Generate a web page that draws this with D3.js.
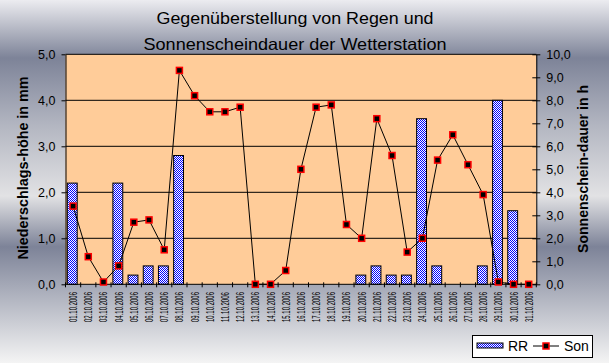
<!DOCTYPE html>
<html>
<head>
<meta charset="utf-8">
<script src="https://cdn.jsdelivr.net/npm/d3@7"></script>
<style>
  body { margin: 0; padding: 0; }
  text { font-family: "Liberation Sans", Arial, sans-serif; fill: #000; }
</style>
</head>
<body>
<div id="chart"></div>
<script>
var days = ["01.10.2006", "02.10.2006", "03.10.2006", "04.10.2006", "05.10.2006", "06.10.2006", "07.10.2006",
  "08.10.2006", "09.10.2006", "10.10.2006", "11.10.2006", "12.10.2006", "13.10.2006", "14.10.2006",
  "15.10.2006", "16.10.2006", "17.10.2006", "18.10.2006", "19.10.2006", "20.10.2006", "21.10.2006",
  "22.10.2006", "23.10.2006", "24.10.2006", "25.10.2006", "26.10.2006", "27.10.2006", "28.10.2006",
  "29.10.2006", "30.10.2006", "31.10.2006"];

// Niederschlag in mm (linke Achse)
var rr = [2.2, 0, 0, 2.2, 0.2, 0.4, 0.4, 2.8, 0, 0, 0, 0, 0, 0, 0, 0, 0, 0, 0, 0.2, 0.4,
  0.2, 0.2, 3.6, 0.4, 0, 0, 0.4, 4.0, 1.6, 0];

// Sonnenscheindauer in h (rechte Achse)
var son = [3.4, 1.2, 0.1, 0.8, 2.7, 2.8, 1.5, 9.3, 8.2, 7.5, 7.5, 7.7, 0, 0, 0.6, 5.0, 7.7, 7.8, 2.6, 2.0, 7.2,
  5.6, 1.4, 2.0, 5.4, 6.5, 5.2, 3.9, 0.1, 0, 0];

var leftTicks = [0, 1, 2, 3, 4, 5];
var rightTicks = [0, 1, 2, 3, 4, 5, 6, 7, 8, 9, 10];
var titleLines = ["Gegenüberstellung von Regen und", "Sonnenscheindauer der Wetterstation"];
var seriesNames = ["RR", "Son"];

var width = 609, height = 363;
var plotL = 65.5, plotR = 536.3, plotT = 54.3, plotB = 284.3;

var fmt = function (d) { return d3.format(".1f")(d).replace(".", ","); };

var svg = d3.select("#chart").append("svg")
  .attr("width", width).attr("height", height);

var defs = svg.append("defs");
var grad = defs.append("linearGradient").attr("id", "bg")
  .attr("x1", 0).attr("y1", 0).attr("x2", 0).attr("y2", 1);
grad.append("stop").attr("offset", "0").attr("stop-color", "#ececf0");
grad.append("stop").attr("offset", "0.16").attr("stop-color", "#7d8398");
grad.append("stop").attr("offset", "0.35").attr("stop-color", "#b4b7c2");
grad.append("stop").attr("offset", "0.54").attr("stop-color", "#e2e2e4");
grad.append("stop").attr("offset", "0.68").attr("stop-color", "#7d8398");
grad.append("stop").attr("offset", "1").attr("stop-color", "#f4f4f4");

// blau/weiss kariert wie in Excel
var pat = defs.append("pattern").attr("id", "dots")
  .attr("width", 2).attr("height", 2).attr("patternUnits", "userSpaceOnUse");
pat.append("rect").attr("width", 2).attr("height", 2).attr("fill", "#fff");
pat.append("rect").attr("x", 0).attr("y", 0).attr("width", 1).attr("height", 1).attr("fill", "#0000ff");
pat.append("rect").attr("x", 1).attr("y", 1).attr("width", 1).attr("height", 1).attr("fill", "#0000ff");

svg.append("rect").attr("width", width).attr("height", height).attr("fill", "url(#bg)");

var x = d3.scaleBand().domain(days).range([plotL, plotR]).padding(0);
var yL = d3.scaleLinear().domain([0, 5]).range([plotB, plotT]);
var yR = d3.scaleLinear().domain([0, 10]).range([plotB, plotT]);

// plot area
svg.append("rect")
  .attr("x", plotL).attr("y", plotT)
  .attr("width", plotR - plotL).attr("height", plotB - plotT)
  .attr("fill", "#ffcc99");

// gridlines
svg.append("g").selectAll("line")
  .data(leftTicks.slice(1))
  .enter().append("line")
  .attr("x1", plotL).attr("x2", plotR)
  .attr("y1", function (d) { return yL(d); })
  .attr("y2", function (d) { return yL(d); })
  .attr("stroke", "#000").attr("stroke-width", 1);

// bars
var bw = x.bandwidth();
svg.append("g").selectAll("rect")
  .data(days.map(function (d, i) { return { day: d, v: rr[i] }; }).filter(function (d) { return d.v > 0; }))
  .enter().append("rect")
  .attr("x", function (d) { return x(d.day) + bw * 0.12; })
  .attr("width", bw * 0.65)
  .attr("y", function (d) { return yL(d.v); })
  .attr("height", function (d) { return yL(0) - yL(d.v); })
  .attr("fill", "url(#dots)")
  .attr("stroke", "#000").attr("stroke-width", 1);

// left axis
var axL = svg.append("g").attr("transform", "translate(" + plotL + ",0)")
  .call(d3.axisLeft(yL).tickValues(leftTicks).tickSize(4).tickSizeOuter(0).tickFormat(fmt));
axL.selectAll("text").attr("x", -10).style("font-size", "12.5px").style("font-family", "Liberation Sans, Arial");
axL.selectAll("line, path").attr("stroke", "#000");

// right axis, ticks crossing
var axR = svg.append("g").attr("transform", "translate(" + plotR + ",0)")
  .call(d3.axisRight(yR).tickValues(rightTicks).tickSize(4).tickSizeOuter(0).tickFormat(fmt));
axR.selectAll(".tick line").attr("x1", -4).attr("x2", 4);
axR.selectAll("text").attr("x", 10).style("font-size", "12.5px").style("font-family", "Liberation Sans, Arial");
axR.selectAll("line, path").attr("stroke", "#000");

// x axis line + ticks at category borders
svg.append("line").attr("x1", plotL).attr("x2", plotR).attr("y1", plotB).attr("y2", plotB)
  .attr("stroke", "#000");
svg.append("g").selectAll("line")
  .data(days.concat(["end"]))
  .enter().append("line")
  .attr("x1", function (d) { return d === "end" ? plotR : x(d); })
  .attr("x2", function (d) { return d === "end" ? plotR : x(d); })
  .attr("y1", plotB - 2).attr("y2", plotB + 3)
  .attr("stroke", "#000");

svg.append("g").selectAll("text")
  .data(days)
  .enter().append("text")
  .attr("transform", function (d) { return "translate(" + (x(d) + bw / 2 + 4) + "," + 292 + ") rotate(-90)"; })
  .attr("text-anchor", "end")
  .attr("textLength", 30)
  .attr("lengthAdjust", "spacingAndGlyphs")
  .style("font-size", "11.5px")
  .text(function (d) { return d; });

// Sonnenschein line
var line = d3.line()
  .x(function (d, i) { return x(days[i]) + bw / 2; })
  .y(function (d) { return yR(d); });

svg.append("path").datum(son)
  .attr("d", line)
  .attr("fill", "none").attr("stroke", "#000").attr("stroke-width", 1);

svg.append("g").selectAll("rect")
  .data(son)
  .enter().append("rect")
  .attr("x", function (d, i) { return x(days[i]) + bw / 2 - 3; })
  .attr("y", function (d) { return yR(d) - 3; })
  .attr("width", 6).attr("height", 6)
  .attr("fill", "#000").attr("stroke", "#ff0000").attr("stroke-width", 1.5);

// title
svg.append("text").attr("x", 295).attr("y", 24)
  .attr("text-anchor", "middle").attr("textLength", 277).attr("lengthAdjust", "spacingAndGlyphs")
  .style("font-size", "16.5px").text(titleLines[0]);
svg.append("text").attr("x", 295).attr("y", 49.5)
  .attr("text-anchor", "middle").attr("textLength", 303).attr("lengthAdjust", "spacingAndGlyphs")
  .style("font-size", "16.5px").text(titleLines[1]);

// axis titles
svg.append("text")
  .attr("transform", "translate(28,168) rotate(-90)")
  .attr("text-anchor", "middle").attr("textLength", 183).attr("lengthAdjust", "spacingAndGlyphs")
  .style("font-size", "14px").style("font-weight", "bold")
  .text("Niederschlags-höhe in mm");
svg.append("text")
  .attr("transform", "translate(588,169) rotate(-90)")
  .attr("text-anchor", "middle").attr("textLength", 168).attr("lengthAdjust", "spacingAndGlyphs")
  .style("font-size", "14px").style("font-weight", "bold")
  .text("Sonnenschein-dauer in h");

// legend
var lg = svg.append("g");
lg.append("rect").attr("x", 472.5).attr("y", 335.5).attr("width", 120).attr("height", 22)
  .attr("fill", "#fff").attr("stroke", "#000");
lg.append("rect").attr("x", 477).attr("y", 343).attr("width", 26).attr("height", 5)
  .attr("fill", "url(#dots)").attr("stroke", "#000");
lg.append("text").attr("x", 508).attr("y", 351).style("font-size", "14px").text(seriesNames[0]);
lg.append("line").attr("x1", 533).attr("x2", 559).attr("y1", 346).attr("y2", 346).attr("stroke", "#000");
lg.append("rect").attr("x", 543).attr("y", 343).attr("width", 6).attr("height", 6)
  .attr("fill", "#000").attr("stroke", "#ff0000").attr("stroke-width", 1.5);
lg.append("text").attr("x", 564).attr("y", 351).style("font-size", "14px").text(seriesNames[1]);
</script>
</body>
</html>
